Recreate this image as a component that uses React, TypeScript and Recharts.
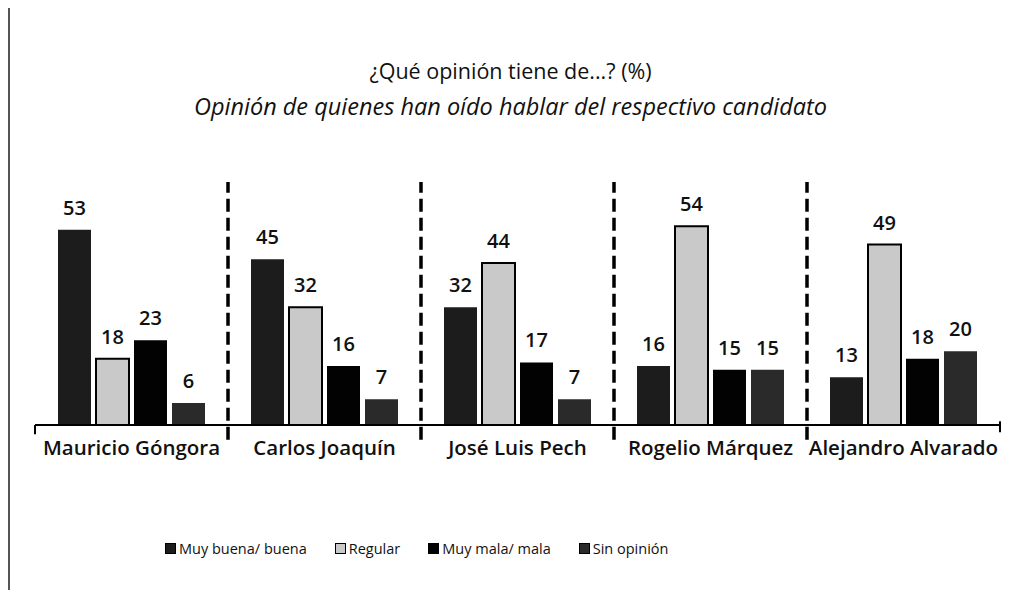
import { BarChart, Bar, XAxis, YAxis, LabelList, Legend, ReferenceLine } from "recharts";

const candidates = [
  "Mauricio Góngora",
  "Carlos Joaquín",
  "José Luis Pech",
  "Rogelio Márquez",
  "Alejandro Alvarado",
];
const muyBuena = [53, 45, 32, 16, 13];
const regular = [18, 32, 44, 54, 49];
const muyMala = [23, 16, 17, 15, 18];
const sinOpinion = [6, 7, 7, 15, 20];

// dashed separator drawn at the end of each group except the last
const separators = candidates.slice(0, -1);

const series = [
  { key: "muyBuena", name: "Muy buena/ buena", fill: "#1c1c1c", stroke: "none" },
  { key: "regular", name: "Regular", fill: "#c9c9c9", stroke: "#000" },
  { key: "muyMala", name: "Muy mala/ mala", fill: "#020202", stroke: "none" },
  { key: "sinOpinion", name: "Sin opinión", fill: "#2a2a2a", stroke: "none" },
];

const data = candidates.map((name, i) => ({
  name,
  muyBuena: muyBuena[i],
  regular: regular[i],
  muyMala: muyMala[i],
  sinOpinion: sinOpinion[i],
}));

const font = "'Open Sans', sans-serif";

function LegendBox() {
  return (
    <div
      style={{
        display: "flex",
        gap: 28,
        paddingLeft: 130,
        fontFamily: font,
        fontSize: 14.5,
        color: "#111",
        alignItems: "center",
        height: 30,
      }}
    >
      {series.map((s) => (
        <div key={s.key} style={{ display: "flex", alignItems: "center", gap: 3 }}>
          <span
            style={{
              display: "inline-block",
              width: 9,
              height: 9,
              background: s.fill,
              border: "1px solid #000",
            }}
          />
          <span>{s.name}</span>
        </div>
      ))}
    </div>
  );
}

export default function App() {
  return (
    <div style={{ position: "relative", width: 1005, height: 582, background: "#fff" }}>
      <div style={{ position: "absolute", left: 0, top: -8, width: 2, height: 590, background: "#555" }} />
      <div
        style={{
          position: "absolute",
          top: 48,
          width: "100%",
          textAlign: "center",
          fontFamily: font,
          fontSize: 21.5,
          color: "#111",
        }}
      >
        ¿Qué opinión tiene de...? (%)
      </div>
      <div
        style={{
          position: "absolute",
          top: 82,
          width: "100%",
          textAlign: "center",
          fontFamily: font,
          fontSize: 23.5,
          fontStyle: "italic",
          color: "#111",
        }}
      >
        Opinión de quienes han oído hablar del respectivo candidato
      </div>
      <BarChart
        width={1005}
        height={582}
        data={data}
        margin={{ top: 174, right: 13, bottom: 27, left: 27 }}
        barCategoryGap={23}
        barGap={5}
      >
        <XAxis
          dataKey="name"
          tickLine={false}
          axisLine={{ stroke: "#000", strokeWidth: 2 }}
          tickMargin={9}
          height={108}
          interval={0}
          tick={{ fill: "#111", fontSize: 20.5, fontFamily: font, fontWeight: 600 }}
        />
        <YAxis hide domain={[0, 66]} />
        {separators.map((s) => (
          <ReferenceLine
            key={s}
            segment={[
              { x: s, y: -4 },
              { x: s, y: 66 },
            ]}
            position="end"
            ifOverflow="visible"
            stroke="#000"
            strokeWidth={3.5}
            strokeDasharray="13 6"
          />
        ))}
        <ReferenceLine
          segment={[
            { x: candidates[0], y: -2.5 },
            { x: candidates[0], y: 0 },
          ]}
          position="start"
          ifOverflow="visible"
          stroke="#000"
          strokeWidth={2}
        />
        <ReferenceLine
          segment={[
            { x: candidates[candidates.length - 1], y: -2 },
            { x: candidates[candidates.length - 1], y: 1 },
          ]}
          position="end"
          ifOverflow="visible"
          stroke="#000"
          strokeWidth={2}
        />
        {series.map((s) => (
          <Bar
            key={s.key}
            dataKey={s.key}
            name={s.name}
            fill={s.fill}
            stroke={s.stroke}
            strokeWidth={2}
            isAnimationActive={false}
          >
            <LabelList
              dataKey={s.key}
              position="top"
              offset={15}
              fill="#111"
              fontSize={20}
              fontFamily={font}
              fontWeight={600}
            />
          </Bar>
        ))}
        <Legend verticalAlign="bottom" height={30} content={() => <LegendBox />} />
      </BarChart>
    </div>
  );
}
